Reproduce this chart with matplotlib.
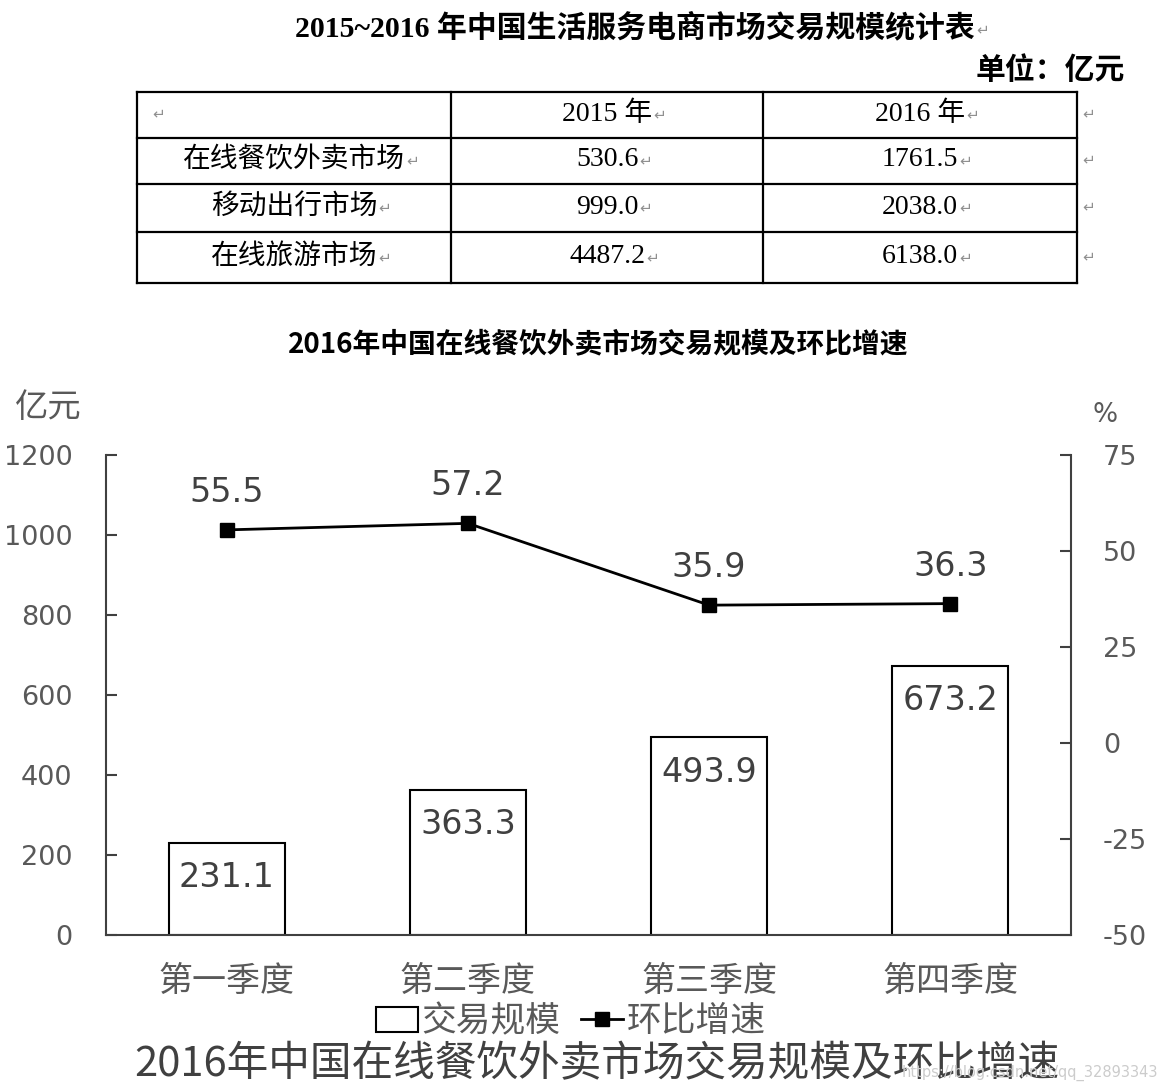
import matplotlib
matplotlib.use('Agg')
import matplotlib.pyplot as plt
import numpy as np
from matplotlib.patches import Patch
from matplotlib.lines import Line2D

plt.rcParams['font.family'] = ['Noto Sans CJK SC', 'DejaVu Sans']
plt.rcParams['axes.unicode_minus'] = False

# 表格数据
tbl_title = '2015~2016 年中国生活服务电商市场交易规模统计表'
tbl_cols = ['2015 年', '2016 年']
tbl_rows = ['在线餐饮外卖市场', '移动出行市场', '在线旅游市场']
v2015 = [530.6, 999.0, 4487.2]
v2016 = [1761.5, 2038.0, 6138.0]

# 图表数据
quarters = ['第一季度', '第二季度', '第三季度', '第四季度']
scale = [231.1, 363.3, 493.9, 673.2]      # 交易规模 亿元
growth = [55.5, 57.2, 35.9, 36.3]         # 环比增速 %

W, H = 1164, 1092
fig = plt.figure(figsize=(W / 100, H / 100), dpi=100)

# ---- 上方表格（用像素坐标的底层坐标轴画） ----
bg = fig.add_axes([0, 0, 1, 1])
bg.set_xlim(0, W)
bg.set_ylim(H, 0)
bg.axis('off')

serif = ['Liberation Serif', 'Noto Sans CJK SC', 'DejaVu Sans']
num_font = ['DejaVu Sans', 'Noto Sans CJK SC']
ret_color = '#909090'

def ret_mark(t):
    bg.annotate('↵', xy=(1, 0.45), xycoords=t, xytext=(1, 0), textcoords='offset points',
                ha='left', va='center', fontsize=11, color=ret_color, family='DejaVu Sans')

t = bg.text(635, 28, tbl_title, ha='center', va='center', fontsize=21.5,
            fontweight='bold', family=serif)
ret_mark(t)
bg.text(1125, 70, '单位：亿元', ha='right', va='center', fontsize=21.5, fontweight='bold')

col_x = [137, 451, 763, 1077]
row_y = [92, 138, 184, 232, 283]
for xx in col_x:
    bg.plot([xx, xx], [row_y[0], row_y[-1]], color='black', lw=1.6)
for yy in row_y:
    bg.plot([col_x[0], col_x[-1]], [yy, yy], color='black', lw=1.6)

def cy(r):
    return (row_y[r] + row_y[r + 1]) / 2 - 1

def cx(c):
    return (col_x[c] + col_x[c + 1]) / 2

bg.text(152, cy(0), '↵', ha='left', va='center', fontsize=11, color=ret_color, family='DejaVu Sans')
for c, name in enumerate(tbl_cols):
    t = bg.text(cx(c + 1), cy(0), name, ha='center', va='center', fontsize=20, family=serif)
    ret_mark(t)
for r, name in enumerate(tbl_rows):
    t = bg.text(cx(0), cy(r + 1), name, ha='center', va='center', fontsize=20, family=serif)
    ret_mark(t)
    t = bg.text(cx(1), cy(r + 1), f'{v2015[r]:.1f}', ha='center', va='center', fontsize=20, family=serif)
    ret_mark(t)
    t = bg.text(cx(2), cy(r + 1), f'{v2016[r]:.1f}', ha='center', va='center', fontsize=20, family=serif)
    ret_mark(t)
for r in range(4):
    bg.text(1082, cy(r), '↵', ha='left', va='center', fontsize=11, color=ret_color, family='DejaVu Sans')

# ---- 图表 ----
fig.text(598 / W, 1 - 344 / H, '2016年中国在线餐饮外卖市场交易规模及环比增速',
         ha='center', va='center', fontsize=20, fontweight='bold', color='black')

ax = fig.add_axes([106 / W, 1 - 935 / H, (1071 - 106) / W, (935 - 455) / H])
x = np.arange(len(quarters))
ax.bar(x, scale, width=0.48, color='white', edgecolor='black', linewidth=1.5, zorder=2)
ax.set_xlim(-0.5, 3.5)
ax.set_ylim(0, 1200)
ax.set_yticks(range(0, 1201, 200))
ax.set_xticks(x)
ax.set_xticklabels(quarters)
ax.spines['top'].set_visible(False)
ax.spines['right'].set_visible(False)
for s in ['left', 'bottom']:
    ax.spines[s].set_color('#404040')
    ax.spines[s].set_linewidth(1.5)
ax.tick_params(axis='y', direction='in', length=8, width=1.5, pad=24,
               labelsize=19.5, labelcolor='#595959', color='#404040')
ax.tick_params(axis='x', length=0, pad=21, labelsize=24.5, labelcolor='#595959')
for lb in ax.get_yticklabels():
    lb.set_family(num_font)

for i, v in enumerate(scale):
    ax.annotate(f'{v:.1f}', (i, v), xytext=(0, -25), textcoords='offset points',
                ha='center', va='center', fontsize=24, color='#404040', family=num_font)

ax2 = ax.twinx()
ax2.plot(x, growth, color='black', marker='s', markersize=10, lw=2)
ax2.set_ylim(-50, 75)
ax2.set_yticks(range(-50, 76, 25))
for s in ['top', 'left', 'bottom']:
    ax2.spines[s].set_visible(False)
ax2.spines['right'].set_color('#404040')
ax2.spines['right'].set_linewidth(1.5)
ax2.tick_params(axis='y', direction='in', length=8, width=1.5, pad=23,
                labelsize=19.5, labelcolor='#595959', color='#404040')
for lb in ax2.get_yticklabels():
    lb.set_family(num_font)

for i, v in enumerate(growth):
    ax2.annotate(f'{v:.1f}', (i, v), xytext=(0, 27), textcoords='offset points',
                 ha='center', va='center', fontsize=24, color='#404040', family=num_font)

fig.text(48 / W, 1 - 408 / H, '亿元', ha='center', va='center', fontsize=24, color='#595959')
fig.text(1105 / W, 1 - 415 / H, '%', ha='center', va='center', fontsize=19,
         color='#595959', family=num_font)

handles = [Patch(facecolor='white', edgecolor='black', linewidth=1.5),
           Line2D([], [], color='black', marker='s', markersize=10, lw=2)]
fig.legend(handles, ['交易规模', '环比增速'], loc='center', ncol=2, frameon=False,
           bbox_to_anchor=(571 / W, 1 - 1022 / H), fontsize=25, labelcolor='#595959',
           handlelength=1.2, handletextpad=0.1, columnspacing=0.6)

fig.text(597 / W, 1 - 1065 / H, '2016年中国在线餐饮外卖市场交易规模及环比增速',
         ha='center', va='center', fontsize=30, color='#404040')
fig.text(1030 / W, 1 - 1073 / H, 'https://blog.csdn.net/qq_32893343',
         ha='center', va='center', fontsize=10.5, color='#cccccc', family='DejaVu Sans')

fig.savefig('out.png', dpi=100)
